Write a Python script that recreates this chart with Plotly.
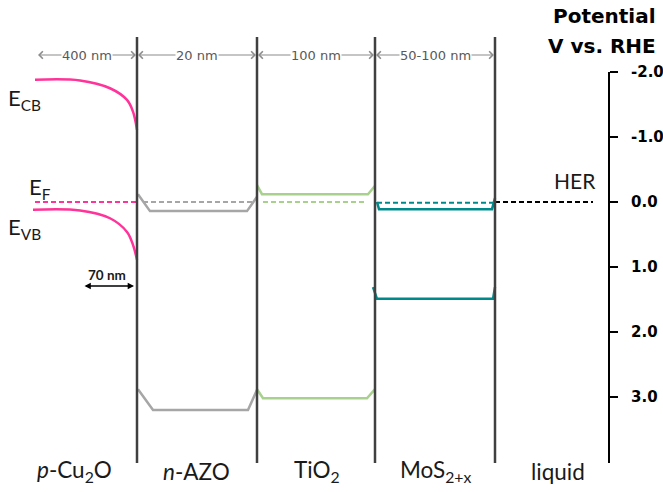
import plotly.graph_objects as go

# ---------------- data ----------------
layer_names = ["<i>p</i>-Cu<sub>2</sub>O", "<i>n</i>-AZO", "TiO<sub>2</sub>", "MoS<sub>2+x</sub>", "liquid"]
layer_centers = [74, 196, 317, 435, 558]
interfaces = [137, 257, 375, 495]
thickness_labels = ["400 nm", "20 nm", "100 nm", "50-100 nm"]
thickness_bounds = [(37, 137), (137, 257), (257, 375), (375, 495)]

tick_vals = [-2.0, -1.0, 0.0, 1.0, 2.0, 3.0]
tick_text = ["-2.0", "-1.0", "0.0", "1.0", "2.0", "3.0"]

# Cu2O band bending (potential V vs RHE)
cu2o_x = [35, 80, 110, 127, 133, 137]
cu2o_cb = [-1.88, -1.87, -1.75, -1.57, -1.39, -1.11]
cu2o_vb_x = [33, 80, 110, 127, 133, 137]
cu2o_vb = [0.12, 0.13, 0.25, 0.46, 0.66, 0.89]
cu2o_ef_x = [35, 137]
cu2o_ef = [0.0, 0.0]

azo_x = [138, 150, 247, 257]
azo_cb = [-0.12, 0.14, 0.14, -0.08]
azo_vb_x = [138, 153, 248, 257]
azo_vb = [2.88, 3.20, 3.20, 2.89]
azo_ef_x = [143, 253]
azo_ef = [0.0, 0.0]

tio2_x = [257, 262, 368, 375]
tio2_cb = [-0.26, -0.12, -0.12, -0.25]
tio2_vb_x = [257, 263, 367, 375]
tio2_vb = [2.88, 3.02, 3.02, 2.88]
tio2_ef_x = [263, 367]
tio2_ef = [0.0, 0.0]

mos2_x = [377, 379, 492, 495]
mos2_cb = [0.0, 0.11, 0.11, -0.06]
mos2_vb_x = [373, 377, 493, 495]
mos2_vb = [1.31, 1.49, 1.49, 1.31]
mos2_ef_x = [377, 493]
mos2_ef = [0.01, 0.01]

her_x = [495, 593]
her_y = [0.0, 0.0]

# ---------------- styles ----------------
PINK = "#FF3399"
GRAY = "#A6A6A6"
GREEN = "#A9D18E"
TEAL = "#00898A"
DARK = "#404040"
TXT = "#1a1a1a"
FONT = "Lato"
WIDE = "DejaVu Sans"

fig = go.Figure()

def solid(x, y, c, shape="linear"):
    fig.add_trace(go.Scatter(x=x, y=y, mode="lines", line=dict(color=c, width=2.5, shape=shape, smoothing=1.0),
                             hoverinfo="skip", showlegend=False))

def dashed(x, y, c):
    fig.add_trace(go.Scatter(x=x, y=y, mode="lines", line=dict(color=c, width=2, dash="5px,3px"),
                             hoverinfo="skip", showlegend=False))

dashed(cu2o_ef_x, cu2o_ef, PINK)
solid(cu2o_x, cu2o_cb, PINK, "spline")
solid(cu2o_vb_x, cu2o_vb, PINK, "spline")
dashed(azo_ef_x, azo_ef, GRAY)
solid(azo_x, azo_cb, GRAY)
solid(azo_vb_x, azo_vb, GRAY)
dashed(tio2_ef_x, tio2_ef, GREEN)
solid(tio2_x, tio2_cb, GREEN)
solid(tio2_vb_x, tio2_vb, GREEN)
dashed(mos2_ef_x, mos2_ef, TEAL)
solid(mos2_x, mos2_cb, TEAL)
solid(mos2_vb_x, mos2_vb, TEAL)
dashed(her_x, her_y, "#000000")

# pixel mapping helper for layout-only positions (y pixel -> potential)
def py(p):
    return (p - 202) / 65.0

shapes = []
for xi in interfaces:
    shapes.append(dict(type="line", x0=xi, x1=xi, y0=py(37), y1=py(463), xref="x", yref="y",
                       line=dict(color=DARK, width=2.5)))
# right potential axis line
shapes.append(dict(type="line", x0=609, x1=609, y0=tick_vals[0], y1=py(463), xref="x", yref="y",
                   line=dict(color="#000000", width=2)))

ann = []
# thickness arrows
for (a, b), lab in zip(thickness_bounds, thickness_labels):
    c = (a + b) / 2
    for end in (a + 1, b - 1):
        ann.append(dict(x=end, y=py(55), ax=c, ay=py(55), xref="x", yref="y", axref="x", ayref="y",
                        text="", showarrow=True, arrowhead=4, arrowsize=1.3, arrowwidth=1.1,
                        arrowcolor="#8c8c8c"))
    ann.append(dict(x=c, y=py(55), xref="x", yref="y", text=lab, showarrow=False, bgcolor="white",
                    borderpad=0, font=dict(family=WIDE, size=13, color="#595959")))

# 70 nm arrow
ann.append(dict(x=134, y=py(286), ax=83, ay=py(286), xref="x", yref="y", axref="x", ayref="y",
                text="", showarrow=True, arrowhead=2, startarrowhead=2, arrowside="end+start",
                arrowsize=0.9, arrowwidth=1.4, arrowcolor="#000000"))
ann.append(dict(x=107, y=py(275), xref="x", yref="y", text="<b>70 nm</b>", showarrow=False,
                font=dict(family=FONT, size=13.5, color=TXT)))

# band labels
ann.append(dict(x=6, y=py(99), xref="x", yref="y", text="E<sub>CB</sub>", showarrow=False, xanchor="left",
                font=dict(family=FONT, size=22, color=TXT)))
ann.append(dict(x=27, y=py(188), xref="x", yref="y", text="E<sub>F</sub>", showarrow=False, xanchor="left",
                font=dict(family=FONT, size=22, color=TXT)))
ann.append(dict(x=6, y=py(228), xref="x", yref="y", text="E<sub>VB</sub>", showarrow=False, xanchor="left",
                font=dict(family=FONT, size=22, color=TXT)))
ann.append(dict(x=598, y=py(180), xref="x", yref="y", text="HER", showarrow=False, xanchor="right",
                font=dict(family=FONT, size=21, color=TXT)))

# layer names
for xc, name in zip(layer_centers, layer_names):
    ann.append(dict(x=xc, y=py(471), xref="x", yref="y", text=name, showarrow=False,
                    font=dict(family=FONT, size=22.5, color=TXT)))

# axis title
ann.append(dict(x=658, y=py(16), xref="x", yref="y", text="<b>Potential</b>", showarrow=False,
                xanchor="right", font=dict(family=WIDE, size=20, color="#000000")))
ann.append(dict(x=658, y=py(46), xref="x", yref="y", text="<b>V vs. RHE</b>", showarrow=False,
                xanchor="right", font=dict(family=WIDE, size=20, color="#000000")))

fig.update_layout(
    width=663, height=492,
    margin=dict(l=0, r=0, t=0, b=0),
    paper_bgcolor="white", plot_bgcolor="white",
    showlegend=False,
    shapes=shapes,
    annotations=ann,
    xaxis=dict(range=[0, 663], visible=False, fixedrange=True),
    yaxis=dict(range=[py(492), py(0)], showgrid=False, zeroline=False, showline=False,
               anchor="free", position=609 / 663, side="right",
               ticks="outside", ticklen=8, tickwidth=2, tickcolor="#000000",
               tickvals=tick_vals, ticktext=tick_text, ticklabelstandoff=10,
               tickfont=dict(family=WIDE, size=15, color="#000000", weight="bold"), fixedrange=True),
)

fig.write_html("out.html")
